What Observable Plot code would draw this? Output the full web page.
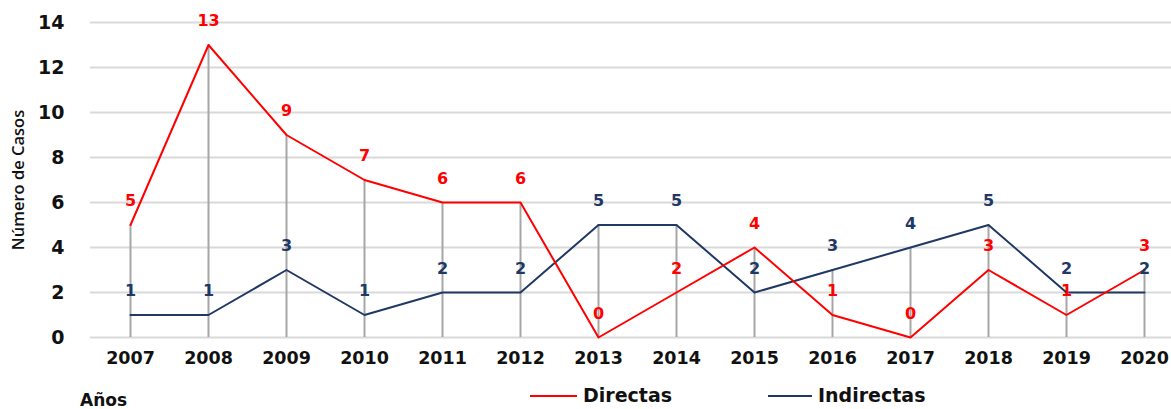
<!DOCTYPE html>
<html>
<head>
<meta charset="utf-8">
<script src="https://cdn.jsdelivr.net/npm/d3@7"></script>
<script src="https://cdn.jsdelivr.net/npm/@observablehq/plot@0.6"></script>
<style>
  html, body { margin: 0; padding: 0; background: #fff; }
  #chart { width: 1171px; height: 409px; overflow: hidden; }
</style>
</head>
<body>
<div id="chart"></div>
<script>
const years = ["2007","2008","2009","2010","2011","2012","2013","2014","2015","2016","2017","2018","2019","2020"];
const directas = [5, 13, 9, 7, 6, 6, 0, 2, 4, 1, 0, 3, 1, 3];
const indirectas = [1, 1, 3, 1, 2, 2, 5, 5, 2, 3, 4, 5, 2, 2];
const yTicks = [0, 2, 4, 6, 8, 10, 12, 14];
const seriesNames = ["Directas", "Indirectas"];
const colors = ["#ff0000", "#203864"];

const rows = years.map((y, i) => ({year: y, d: directas[i], ind: indirectas[i], top: Math.max(directas[i], indirectas[i])}));
const font = "DejaVu Sans, Verdana, sans-serif";

const plot = Plot.plot({
  width: 1171,
  height: 409,
  marginTop: 22,
  marginBottom: 72,
  marginLeft: 90,
  marginRight: 0,
  style: {fontFamily: font, background: "#fff", overflow: "hidden"},
  x: {type: "point", domain: years, range: [128, 1146], padding: 0},
  y: {domain: [0, 14]},
  marks: [
    Plot.gridY(yTicks, {stroke: "#d9d9d9", strokeOpacity: 1, strokeWidth: 2}),
    Plot.axisY(yTicks, {tickSize: 0, tickPadding: 26, fontSize: 19, fontWeight: "bold", fill: "#111", label: null}),
    Plot.axisX({tickSize: 0, tickPadding: 14, fontSize: 17.5, fontWeight: "bold", fill: "#111", label: null}),
    Plot.ruleX(rows, {x: "year", y1: 0, y2: "top", stroke: "#a6a6a6", strokeWidth: 2}),
    Plot.line(rows, {x: "year", y: "ind", stroke: colors[1], strokeWidth: 2}),
    Plot.line(rows, {x: "year", y: "d", stroke: colors[0], strokeWidth: 2}),
    Plot.text(rows, {x: "year", y: "ind", text: "ind", dy: -24, fill: colors[1], fontSize: 16, fontWeight: "bold"}),
    Plot.text(rows, {x: "year", y: "d", text: "d", dy: -24, fill: colors[0], fontSize: 16, fontWeight: "bold"}),
    Plot.text(["Número de Casos"], {frameAnchor: "left", dx: -72, rotate: -90, textAnchor: "middle", fontSize: 16.5, fill: "#111", fontFamily: "Open Sans, sans-serif", fontWeight: 600})
  ]
});

const svg = d3.select(plot);
const leg = svg.append("g").attr("font-family", font).attr("font-weight", "bold").attr("font-size", 19).attr("fill", "#111").attr("text-anchor", "start");
const legendItems = [{x1: 530, x2: 577, tx: 583}, {x1: 768, x2: 812, tx: 818}];
seriesNames.forEach((name, i) => {
  const it = legendItems[i];
  leg.append("line").attr("x1", it.x1).attr("x2", it.x2).attr("y1", 396).attr("y2", 396).attr("stroke", colors[i]).attr("stroke-width", 2);
  leg.append("text").attr("x", it.tx).attr("y", 402).text(name);
});
svg.append("text").attr("x", 80).attr("y", 406).attr("text-anchor", "start").attr("font-family", font).attr("font-weight", "bold").attr("font-size", 17).attr("fill", "#111").text("Años");

document.getElementById("chart").appendChild(plot);
</script>
</body>
</html>
